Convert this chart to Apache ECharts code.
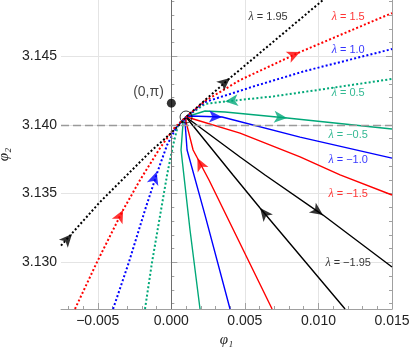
<!DOCTYPE html>
<html><head><meta charset="utf-8">
<script src="https://cdn.jsdelivr.net/npm/echarts@6/dist/echarts.min.js"></script>
<style>html,body{margin:0;padding:0;background:#fff}#c{width:411px;height:347px}</style>
</head><body><div id="c"></div>
<script>
// ---- data ----
const xTicks = [-0.005, 0, 0.005, 0.010, 0.015];
const yTicks = [3.130, 3.135, 3.140, 3.145];
const xMinorTicks = [-0.007,-0.006,-0.004,-0.003,-0.002,-0.001,0.001,0.002,0.003,0.004,0.006,0.007,0.008,0.009,0.011,0.012,0.013,0.014];
const yMinorTicks = [3.127,3.128,3.129,3.131,3.132,3.133,3.134,3.136,3.137,3.138,3.139,3.141,3.142,3.143,3.144,3.146,3.147,3.148,3.149];
const xRange = [-0.0075, 0.015];
const yRange = [3.1266, 3.1491];
const origin = [0, 3.14159];
const fixedPoint = [0.00100, 3.14058];

// lambda > 0 (dotted)
const lam195 = [[-0.00750,3.13121],[-0.00485,3.13439],[-0.00145,3.13803],[-0.00002,3.13941],[0.00073,3.14022],[0.00100,3.14058],[0.00399,3.14342],[0.01031,3.14910]];
const lam15 = [[-0.00655,3.12660],[-0.00505,3.13002],[-0.00328,3.13381],[-0.00213,3.13599],[-0.00077,3.13832],[0.00025,3.13985],[0.00100,3.14058],[0.00229,3.14175],[0.00467,3.14327],[0.00875,3.14531],[0.01500,3.14815]];
const lam10 = [[-0.00396,3.12660],[-0.00288,3.13002],[-0.00179,3.13381],[-0.00097,3.13650],[-0.00029,3.13854],[0.00039,3.13992],[0.00100,3.14058],[0.00229,3.14167],[0.00569,3.14284],[0.00909,3.14393],[0.01500,3.14553]];
const lam05 = [[-0.00179,3.12660],[-0.00131,3.13002],[-0.00070,3.13381],[-0.00029,3.13636],[0.00012,3.13854],[0.00046,3.14000],[0.00100,3.14058],[0.00229,3.14153],[0.00365,3.14171],[0.00685,3.14207],[0.00997,3.14255],[0.01500,3.14335]];
// lambda < 0 (solid), two branches each
const lamM05A = [[0.00100,3.14058],[0.00229,3.14102],[0.00365,3.14094],[0.00787,3.14051],[0.01500,3.13971]];
const lamM05B = [[0.00100,3.14058],[0.00080,3.14022],[0.00066,3.13818],[0.00127,3.13235],[0.00195,3.12660]];
const lamM10A = [[0.00100,3.14058],[0.00127,3.14065],[0.00345,3.14058],[0.00875,3.13912],[0.01500,3.13759]];
const lamM10B = [[0.00100,3.14058],[0.00093,3.14022],[0.00107,3.13818],[0.00229,3.13344],[0.00399,3.12660]];
const lamM15A = [[0.00100,3.14058],[0.00127,3.14051],[0.00467,3.13941],[0.00875,3.13767],[0.01147,3.13636],[0.01500,3.13490]];
const lamM15B = [[0.00100,3.14058],[0.00100,3.14022],[0.00148,3.13818],[0.00256,3.13599],[0.00685,3.12660]];
const lamM195A = [[0.00100,3.14058],[0.00127,3.14036],[0.00467,3.13767],[0.00637,3.13636],[0.01031,3.13344],[0.01500,3.12966]];
const lamM195B = [[0.00100,3.14058],[0.00127,3.14022],[0.00419,3.13636],[0.00603,3.13395],[0.01181,3.12660]];

// arrow positions on trajectories
const arrowPos = [[-0.00675,3.13206],[0.00399,3.14342],[-0.00328,3.13381],[0.00875,3.14531],[-0.00100,3.13660],[0.00365,3.14171],[0.00345,3.14058],[0.00787,3.14051],[0.00177,3.13759],[0.00603,3.13395],[0.01031,3.13344]];
// label anchors and texts
const labelTexts = ['1.95','1.5','1.0','0.5','\u22120.5','\u22121.0','\u22121.5','\u22121.95'];
const labelPos = [[0.00658,3.14786],[0.01202,3.14786],[0.01202,3.14546],[0.01202,3.14233],[0.01202,3.13927],[0.01202,3.13745],[0.01202,3.13497],[0.01202,3.12995]];

// ---- styles ----
const BLACK='#000000', RED='#ff0000', BLUE='#0000ff', GREEN='#00a878';
const arrowAngle = [-42,-50,-27,-66,-18,96,-92,-95,26,39,-125];
const arrowColor = [BLACK,BLACK,RED,RED,BLUE,GREEN,BLUE,GREEN,RED,BLACK,BLACK];
const labelColor = [BLACK,RED,BLUE,GREEN,GREEN,BLUE,RED,BLACK];
const FONT = '"Liberation Sans", Arial, sans-serif';
const AX = '#a0a0a0';

function line(data, color, dotted, extra) {
  return Object.assign({
    type:'line', data, symbol:'none', silent:true, animation:false, z:3,
    lineStyle:{color, width: dotted?2:1.4, type: dotted?[2,2.2]:'solid', cap:'butt'}
  }, extra||{});
}
const fmt = v => (v<0?'\u2212':'') + Math.abs(v).toFixed(3);

const chart = echarts.init(document.getElementById('c'), null, {renderer:'canvas'});
chart.setOption({
  animation:false,
  backgroundColor:'#fff',
  grid:{left:61, right:19, top:0, bottom:38, containLabel:false, outerBoundsMode:'none'},
  xAxis:[
    {type:'value', min:xRange[0], max:xRange[1], position:'bottom',
     name:'φ₁', nameLocation:'middle', nameGap:20,
     nameTextStyle:{fontFamily:'"Liberation Serif", serif', fontStyle:'italic', fontSize:15, color:'#222'},
     axisLine:{show:true, lineStyle:{color:AX, width:1}},
     axisTick:{show:true, inside:true, length:6, customValues:xTicks, lineStyle:{color:AX}},
     axisLabel:{show:true, customValues:xTicks, formatter:fmt, margin:5, fontSize:14, fontFamily:FONT, color:'#222'},
     splitLine:{show:true, lineStyle:{color:'#e4e4e4', width:1}}},
    {type:'value', min:xRange[0], max:xRange[1], position:'bottom',
     axisLine:{show:false}, axisLabel:{show:false}, splitLine:{show:false},
     axisTick:{show:true, inside:true, length:3, customValues:xMinorTicks, lineStyle:{color:AX}}}
  ],
  yAxis:[
    {type:'value', min:yRange[0], max:yRange[1], position:'left',
     name:'φ₂', nameLocation:'middle', nameGap:42, nameRotate:90,
     nameTextStyle:{fontFamily:'"Liberation Serif", serif', fontStyle:'italic', fontSize:15, color:'#222'},
     axisLine:{show:true, lineStyle:{color:AX, width:1}},
     axisTick:{show:true, inside:true, length:6, customValues:yTicks, lineStyle:{color:AX}},
     axisLabel:{show:true, customValues:yTicks, formatter:v=>v.toFixed(3), margin:4, fontSize:14, fontFamily:FONT, color:'#222'},
     splitLine:{show:true, lineStyle:{color:'#e4e4e4', width:1}}},
    {type:'value', min:yRange[0], max:yRange[1], position:'left',
     axisLine:{show:false}, axisLabel:{show:false}, splitLine:{show:false},
     axisTick:{show:true, inside:true, length:3, customValues:yMinorTicks, lineStyle:{color:AX}}},
    {type:'value', min:yRange[0], max:yRange[1], position:'right',
     axisLine:{show:true, lineStyle:{color:AX, width:1}}, axisLabel:{show:false}, splitLine:{show:false},
     axisTick:{show:true, inside:true, length:6, customValues:yTicks, lineStyle:{color:AX}}},
    {type:'value', min:yRange[0], max:yRange[1], position:'right',
     axisLine:{show:false}, axisLabel:{show:false}, splitLine:{show:false},
     axisTick:{show:true, inside:true, length:3, customValues:yMinorTicks, lineStyle:{color:AX}}}
  ],
  series:[
    line([], '#000', false, {z:1, markLine:{silent:true, symbol:'none', label:{show:false}, animation:false,
      data:[
        {xAxis:origin[0], lineStyle:{color:'#6e6e6e', type:'solid', width:1}},
        {yAxis:origin[1], lineStyle:{color:'#9a9a9a', type:[8,4], width:1.3}}
      ]}}),
    line(lamM05A, GREEN, false), line(lamM05B, GREEN, false),
    line(lamM10A, BLUE, false), line(lamM10B, BLUE, false),
    line(lamM15A, RED, false), line(lamM15B, RED, false),
    line(lamM195A, BLACK, false), line(lamM195B, BLACK, false),
    line(lam05, GREEN, true), line(lam10, BLUE, true),
    line(lam15, RED, true), line(lam195, BLACK, true),
    {type:'scatter', silent:true, z:6, symbol:'arrow', symbolSize:[9,13],
     data: arrowPos.map((p,i)=>({value:p, symbolRotate:arrowAngle[i], itemStyle:{color:arrowColor[i]}}))},
    {type:'scatter', silent:true, z:7, symbol:'circle', symbolSize:12,
     itemStyle:{color:'rgba(0,0,0,0)', borderColor:'#000', borderWidth:1}, data:[fixedPoint]},
    {type:'scatter', silent:true, z:7, symbol:'circle', symbolSize:9, itemStyle:{color:'#000'},
     label:{show:true, position:'left', distance:3, offset:[0,-11], formatter:'(0,π)', fontSize:14, fontFamily:FONT, color:'#111'},
     data:[origin]},
    {type:'scatter', silent:true, z:8, symbol:'circle', symbolSize:1, itemStyle:{color:'rgba(0,0,0,0)'},
     data: labelPos.map((p,i)=>({value:p, label:{color:labelColor[i], formatter:'{i|λ} = '+labelTexts[i]}})),
     label:{show:true, position:'inside', fontSize:11, fontFamily:FONT,
       rich:{i:{fontStyle:'italic', fontSize:12, fontFamily:'"Liberation Serif", serif'}}}}
  ]
});
</script></body></html>
